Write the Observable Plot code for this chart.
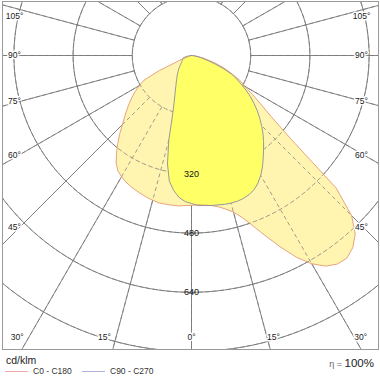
<!DOCTYPE html>
<html><head><meta charset="utf-8">
<script src="https://cdn.jsdelivr.net/npm/d3@7"></script>
<script src="https://cdn.jsdelivr.net/npm/@observablehq/plot@0.6"></script>
<style>
body{margin:0;background:#fff;font-family:"Liberation Sans",Arial,sans-serif;}
#wrap{width:380px;}
.foot{position:relative;width:380px;height:30px;color:#222;}
.foot span{position:absolute;white-space:nowrap;line-height:1;}
.foot i{position:absolute;height:1px;}
</style></head>
<body><div id="wrap"></div>
<div class="foot">
  <span style="left:6px;top:5px;font-size:10.5px;">cd/klm</span>
  <i style="left:5px;top:21px;width:23px;background:#f0a8a8;"></i>
  <span style="left:33px;top:17px;font-size:8.5px;color:#333;">C0 - C180</span>
  <i style="left:82px;top:21px;width:23px;background:#b0b0e0;"></i>
  <span style="left:110px;top:17px;font-size:8.5px;color:#333;">C90 - C270</span>
  <span style="right:6px;top:4px;"><span style="position:static;font-size:9px;color:#666;">η = </span><span style="position:static;font-size:11.5px;">100%</span></span>
</div>
<script>
// gamma angles (deg) and luminous intensities (cd/klm)
const gamma = [0,2.5,5,7.5,10,12.5,15,17.5,20,22.5,25,27.5,30,32.5,35,37.5,40,42.5,45,47.5,50,52.5,55,57.5,60,62.5,65,67.5,70,72.5,75,77.5,80,82.5,85,87.5,90];
const c0   = [403,404,406,409,415,425,438,460,492,530,572,615,650,675,688,690,678,655,612,530,350,272,228,195,165,150,125,105,85,65,45,30,20,12,6,2,0];
const c180 = [405,406,408,408,408,408,405,402,398,394,390,385,378,370,355,333,310,287,264,245,228,212,196,180,163,145,95,35,12,5,2,0,0,0,0,0,0];
const c90  = [405,406,407,409,410,412,413,413,411,407,400,389,374,357,338,320,303,286,268,250,232,213,195,175,155,138,120,95,70,50,35,24,15,9,5,2,0];
const c270 = [400,395,385,368,345,300,237,172,138,118,103,91,82,74,68,62,56,52,47,43,39,36,33,31,29,28,27,26,25,24,22,17,12,8,5,2,0];
const ringValues = [160,320,480,640,800];
const ringLabels = [320,480,640];
const rayAngles = d3.range(0,360,15);
const angleLabels = [-105,-90,-75,-60,-45,-30,-15,0,15,30,45,60,75,90,105];

const k = 0.37, cx = 191, cy = 55;
const rad = d => d*Math.PI/180;

function shape(left, right){
  const pts = [];
  for (let i = gamma.length-1; i >= 0; i--) pts.push({x:-left[i]*Math.sin(rad(gamma[i])), y:left[i]*Math.cos(rad(gamma[i]))});
  for (let i = 1; i < gamma.length; i++) pts.push({x:right[i]*Math.sin(rad(gamma[i])), y:right[i]*Math.cos(rad(gamma[i]))});
  return pts;
}
const shapeA = shape(c180, c0);
const shapeB = shape(c270, c90);

const ringPts = ringValues.flatMap(r => d3.range(0,361,2).map(p => ({r, x:r*Math.sin(rad(p)), y:r*Math.cos(rad(p))})));
const rays = rayAngles.map(a => ({a, x1:160*Math.sin(rad(a)), y1:160*Math.cos(rad(a)), x2:1400*Math.sin(rad(a)), y2:1400*Math.cos(rad(a))}));

const xL = (14-cx)/k, xR = (361-cx)/k, yB = (337-cy)/k, off = 172/k;
const labs = angleLabels.map(a => {
  const s = Math.sin(rad(a)), c = Math.cos(rad(a));
  let x, y, anchor = "middle";
  if (Math.abs(a) >= 45) { x = a < 0 ? xL : xR; y = Math.sign(a)*off/s*c; }
  else { y = yB; x = y/c*s; if (a < 0) anchor = "end"; else if (a > 0) anchor = "start"; }
  return {a, x, y, anchor, dy: Math.abs(a) > 90 ? 7 : 0, text: Math.abs(a) + "°"};
});

const gridStyle = {stroke:"#666", strokeWidth:0.8};
const gridMarks = (extra) => [
  Plot.line(ringPts, {x:"x", y:"y", z:"r", ...gridStyle, ...extra, clip:true}),
  Plot.link(rays, {x1:"x1", y1:"y1", x2:"x2", y2:"y2", ...gridStyle, ...extra, clip:true})
];
const labStyle = {x:"x", y:"y", text:"text", fill:"#222", stroke:"#fff", strokeWidth:3, fontSize:8.5};

const chart = Plot.plot({
  width: 380, height: 350,
  marginLeft: 2, marginRight: 2, marginTop: 1, marginBottom: 1,
  x: {domain: [(2-cx)/k, (378-cx)/k], axis: null},
  y: {domain: [(1-cy)/k, (349-cy)/k], reverse: true, axis: null},
  style: {fontFamily: "'Liberation Sans', Arial, sans-serif", fontSize: "9px", background: "#fff", color: "#222"},
  marks: [
    ...gridMarks({}),
    Plot.line(shapeA, {x:"x", y:"y", fill:"#fff5b0", stroke:"none", curve:"linear-closed"}),
    ...gridMarks({strokeDasharray:"4,3", stroke:"#777", strokeWidth:0.7}),
    Plot.line(shapeB, {x:"x", y:"y", fill:"#ffff66", stroke:"none", curve:"linear-closed"}),
    Plot.line(shapeA, {x:"x", y:"y", stroke:"#e39a72", strokeWidth:0.9, curve:"linear-closed"}),
    Plot.line(shapeB, {x:"x", y:"y", stroke:"#8c8c9c", strokeWidth:0.9, curve:"linear-closed"}),
    Plot.text(ringLabels, {x: 0, y: d => d, text: d => String(d), fontSize: 9, fill:"#111"}),
    Plot.text(labs.filter(d => d.anchor === "middle" && d.dy === 0), labStyle),
    Plot.text(labs.filter(d => d.dy !== 0), {...labStyle, dy: 7}),
    Plot.text(labs.filter(d => d.anchor === "end"), {...labStyle, textAnchor:"end", dx:-5}),
    Plot.text(labs.filter(d => d.anchor === "start"), {...labStyle, textAnchor:"start", dx:0}),
    Plot.frame({stroke:"#999", strokeWidth:1})
  ]
});
document.getElementById("wrap").appendChild(chart);
</script>
</body></html>
